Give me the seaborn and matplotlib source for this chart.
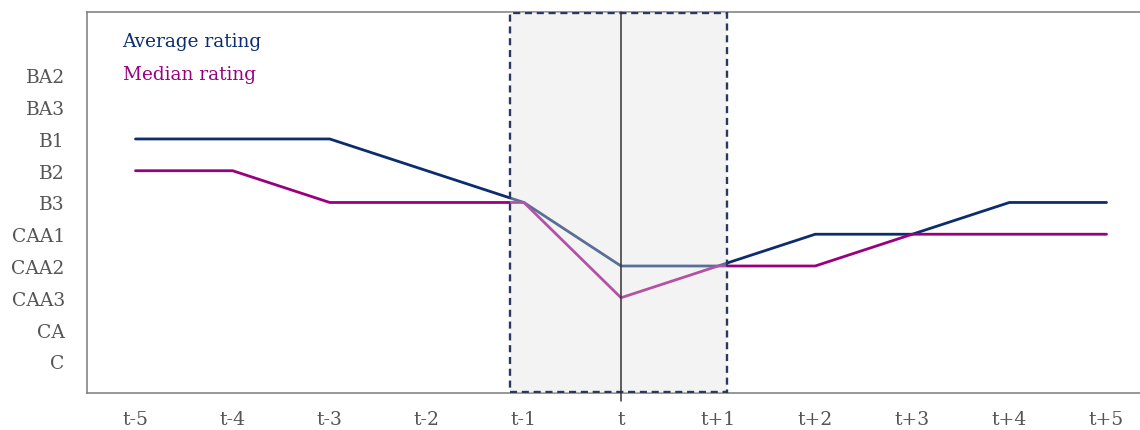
import numpy as np
import pandas as pd
import matplotlib
matplotlib.use("Agg")
import matplotlib.pyplot as plt
import seaborn as sns
from matplotlib.patches import Rectangle

# Rating scale, worst to best
ratings = ["C", "CA", "CAA3", "CAA2", "CAA1", "B3", "B2", "B1", "BA3", "BA2"]
periods = ["t-5", "t-4", "t-3", "t-2", "t-1", "t", "t+1", "t+2", "t+3", "t+4", "t+5"]

average_rating = ["B1", "B1", "B1", "B2", "B3", "CAA2", "CAA2", "CAA1", "CAA1", "B3", "B3"]
median_rating = ["B2", "B2", "B3", "B3", "B3", "CAA3", "CAA2", "CAA2", "CAA1", "CAA1", "CAA1"]

NAVY = "#0b2d6e"
PURPLE = "#990080"
TEXT_GRAY = "#555555"

rank = {r: i for i, r in enumerate(ratings)}
x_pos = np.arange(len(periods))
df = pd.DataFrame({
    "period": np.concatenate([x_pos, x_pos]),
    "rating": [rank[r] for r in average_rating] + [rank[r] for r in median_rating],
    "series": ["Average rating"] * len(periods) + ["Median rating"] * len(periods),
})

sns.set_theme(style="white")
plt.rcParams["font.family"] = ["DejaVu Serif"]

fig = plt.figure(figsize=(11.4, 4.31), dpi=100)
ax = fig.add_axes([0.0763, 0.0858, 1.0132 - 0.0763, 0.970 - 0.0858])

sns.lineplot(data=df, x="period", y="rating", hue="series",
             palette={"Average rating": NAVY, "Median rating": PURPLE},
             linewidth=2.0, legend=False, ax=ax, zorder=2)

ax.set_xlim(-0.5, 10.5)
ax.set_ylim(-1, 11)

# Event window around t
win = Rectangle((3.86, -1), 6.09 - 3.86, 12, facecolor="#e1e1e1", alpha=0.37,
                edgecolor="none", zorder=3)
ax.add_patch(win)
win_edge = Rectangle((3.86, -0.97), 6.09 - 3.86, 11.94, facecolor="none",
                     edgecolor="#2b3a5c", linewidth=1.7, linestyle=(0, (3, 2)),
                     zorder=4)
ax.add_patch(win_edge)
ax.plot([5, 5], [-1.25, 11], color="#333333", linewidth=1.1, zorder=5,
        clip_on=False)

ax.set_xticks(x_pos)
ax.set_xticklabels(periods)
ax.set_yticks(range(len(ratings)))
ax.set_yticklabels(ratings)
ax.tick_params(axis="both", length=0, labelsize=13.5, labelcolor=TEXT_GRAY)
ax.tick_params(axis="y", pad=16)
ax.tick_params(axis="x", pad=12)
ax.set_xlabel("")
ax.set_ylabel("")

for side in ["left", "bottom", "top"]:
    ax.spines[side].set_color("#7a7a7a")
    ax.spines[side].set_linewidth(1.1)
ax.spines["right"].set_visible(False)

ax.text(-0.134, 10.1, "Average rating", color=NAVY, fontsize=13.3, va="center", ha="left")
ax.text(-0.134, 9.06, "Median rating", color=PURPLE, fontsize=13.3, va="center", ha="left")

fig.savefig("out.png", dpi=100)
